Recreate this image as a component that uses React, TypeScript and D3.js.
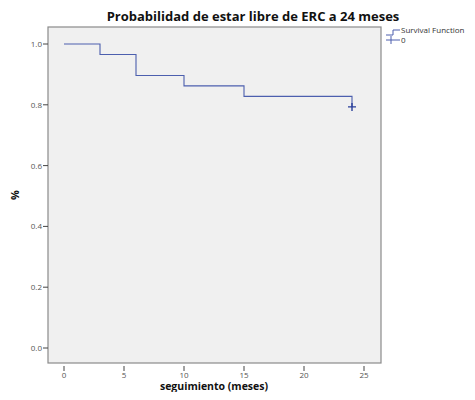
import React, { useEffect, useRef } from "react";
import * as d3 from "d3";

// Kaplan-Meier steps
const times = [0, 3, 6, 10, 15, 24];
const survival = [1.0, 0.9655, 0.8966, 0.8621, 0.8276, 0.7931];
const censorTimes = [24];
const censorValues = [0.7931];
const xTicks = [0, 5, 10, 15, 20, 25];
const yTicks = [0, 0.2, 0.4, 0.6, 0.8, 1.0];
const legendLabels = ["Survival Function", "0"];

const App = () => {
  const ref = useRef<SVGSVGElement | null>(null);

  useEffect(() => {
    const svg = d3.select(ref.current);
    svg.selectAll("*").remove();

    const width = 475;
    const height = 400;
    const plot = { left: 48, top: 27, right: 381, bottom: 363 };
    const lineColor = "#4c5fae";
    const font = "'Open Sans', 'DejaVu Sans', sans-serif";

    const x = d3.scaleLinear().domain([0, 25]).range([64, 364]);
    const y = d3.scaleLinear().domain([0, 1]).range([348, 44]);

    svg.attr("width", width).attr("height", height);

    svg
      .append("rect")
      .attr("x", plot.left)
      .attr("y", plot.top)
      .attr("width", plot.right - plot.left)
      .attr("height", plot.bottom - plot.top)
      .attr("fill", "#f0f0f0")
      .attr("stroke", "#8a8a8a")
      .attr("stroke-width", 1.2);

    // title
    svg
      .append("text")
      .attr("x", 253)
      .attr("y", 21)
      .attr("text-anchor", "middle")
      .attr("font-family", font)
      .attr("font-weight", "bold")
      .attr("font-size", 13)
      .attr("fill", "#111")
      .text("Probabilidad de estar libre de ERC a 24 meses");

    // y axis ticks
    const gy = svg.append("g");
    gy.selectAll("line")
      .data(yTicks)
      .join("line")
      .attr("x1", plot.left - 5)
      .attr("x2", plot.left)
      .attr("y1", (d) => y(d))
      .attr("y2", (d) => y(d))
      .attr("stroke", "#444");
    gy.selectAll("text")
      .data(yTicks)
      .join("text")
      .attr("x", plot.left - 6)
      .attr("y", (d) => y(d) + 3)
      .attr("text-anchor", "end")
      .attr("font-family", font)
      .attr("font-size", 8)
      .attr("fill", "#555")
      .text((d) => d3.format(".1f")(d));

    // x axis ticks
    const gx = svg.append("g");
    gx.selectAll("line")
      .data(xTicks)
      .join("line")
      .attr("x1", (d) => x(d))
      .attr("x2", (d) => x(d))
      .attr("y1", plot.bottom + 3)
      .attr("y2", plot.bottom + 8)
      .attr("stroke", "#444");
    gx.selectAll("text")
      .data(xTicks)
      .join("text")
      .attr("x", (d) => x(d))
      .attr("y", plot.bottom + 15)
      .attr("text-anchor", "middle")
      .attr("font-family", font)
      .attr("font-size", 8)
      .attr("fill", "#555")
      .text((d) => d);

    // axis titles
    svg
      .append("text")
      .attr("x", 214)
      .attr("y", 390)
      .attr("text-anchor", "middle")
      .attr("font-family", font)
      .attr("font-weight", "bold")
      .attr("font-size", 10.5)
      .attr("fill", "#111")
      .text("seguimiento (meses)");

    svg
      .append("text")
      .attr("transform", `translate(19,${(plot.top + plot.bottom) / 2}) rotate(-90)`)
      .attr("text-anchor", "middle")
      .attr("font-family", font)
      .attr("font-weight", "bold")
      .attr("font-size", 11)
      .attr("fill", "#111")
      .text("%");

    // survival step line
    const pts: [number, number][] = times.map((t, i) => [t, survival[i]]);
    const line = d3
      .line<[number, number]>()
      .x((d) => x(d[0]))
      .y((d) => y(d[1]))
      .curve(d3.curveStepAfter);
    svg
      .append("path")
      .datum(pts)
      .attr("d", line)
      .attr("fill", "none")
      .attr("stroke", lineColor)
      .attr("stroke-width", 1.1);

    // censor marks
    censorTimes.forEach((t, i) => {
      const cx = x(t);
      const cy = y(censorValues[i]);
      svg
        .append("path")
        .attr("d", `M${cx - 4},${cy}H${cx + 4}M${cx},${cy - 4}V${cy + 4}`)
        .attr("stroke", "#2a3f9a")
        .attr("stroke-width", 1.4);
    });

    // legend
    const lg = svg.append("g").attr("transform", "translate(386,0)");
    lg.append("path")
      .attr("d", "M0,35H7V30H14")
      .attr("fill", "none")
      .attr("stroke", lineColor)
      .attr("stroke-width", 1);
    lg.append("path")
      .attr("d", "M0,40H14M5,36V44")
      .attr("fill", "none")
      .attr("stroke", lineColor)
      .attr("stroke-width", 1);
    lg.selectAll("text")
      .data(legendLabels)
      .join("text")
      .attr("x", 15)
      .attr("y", (d, i) => 33 + i * 10)
      .attr("font-family", font)
      .attr("font-size", 8)
      .attr("fill", "#333")
      .text((d) => d);
  }, []);

  return (
    <div style={{ margin: -8 }}>
      <svg ref={ref} style={{ display: "block" }} />
    </div>
  );
};

export default App;
